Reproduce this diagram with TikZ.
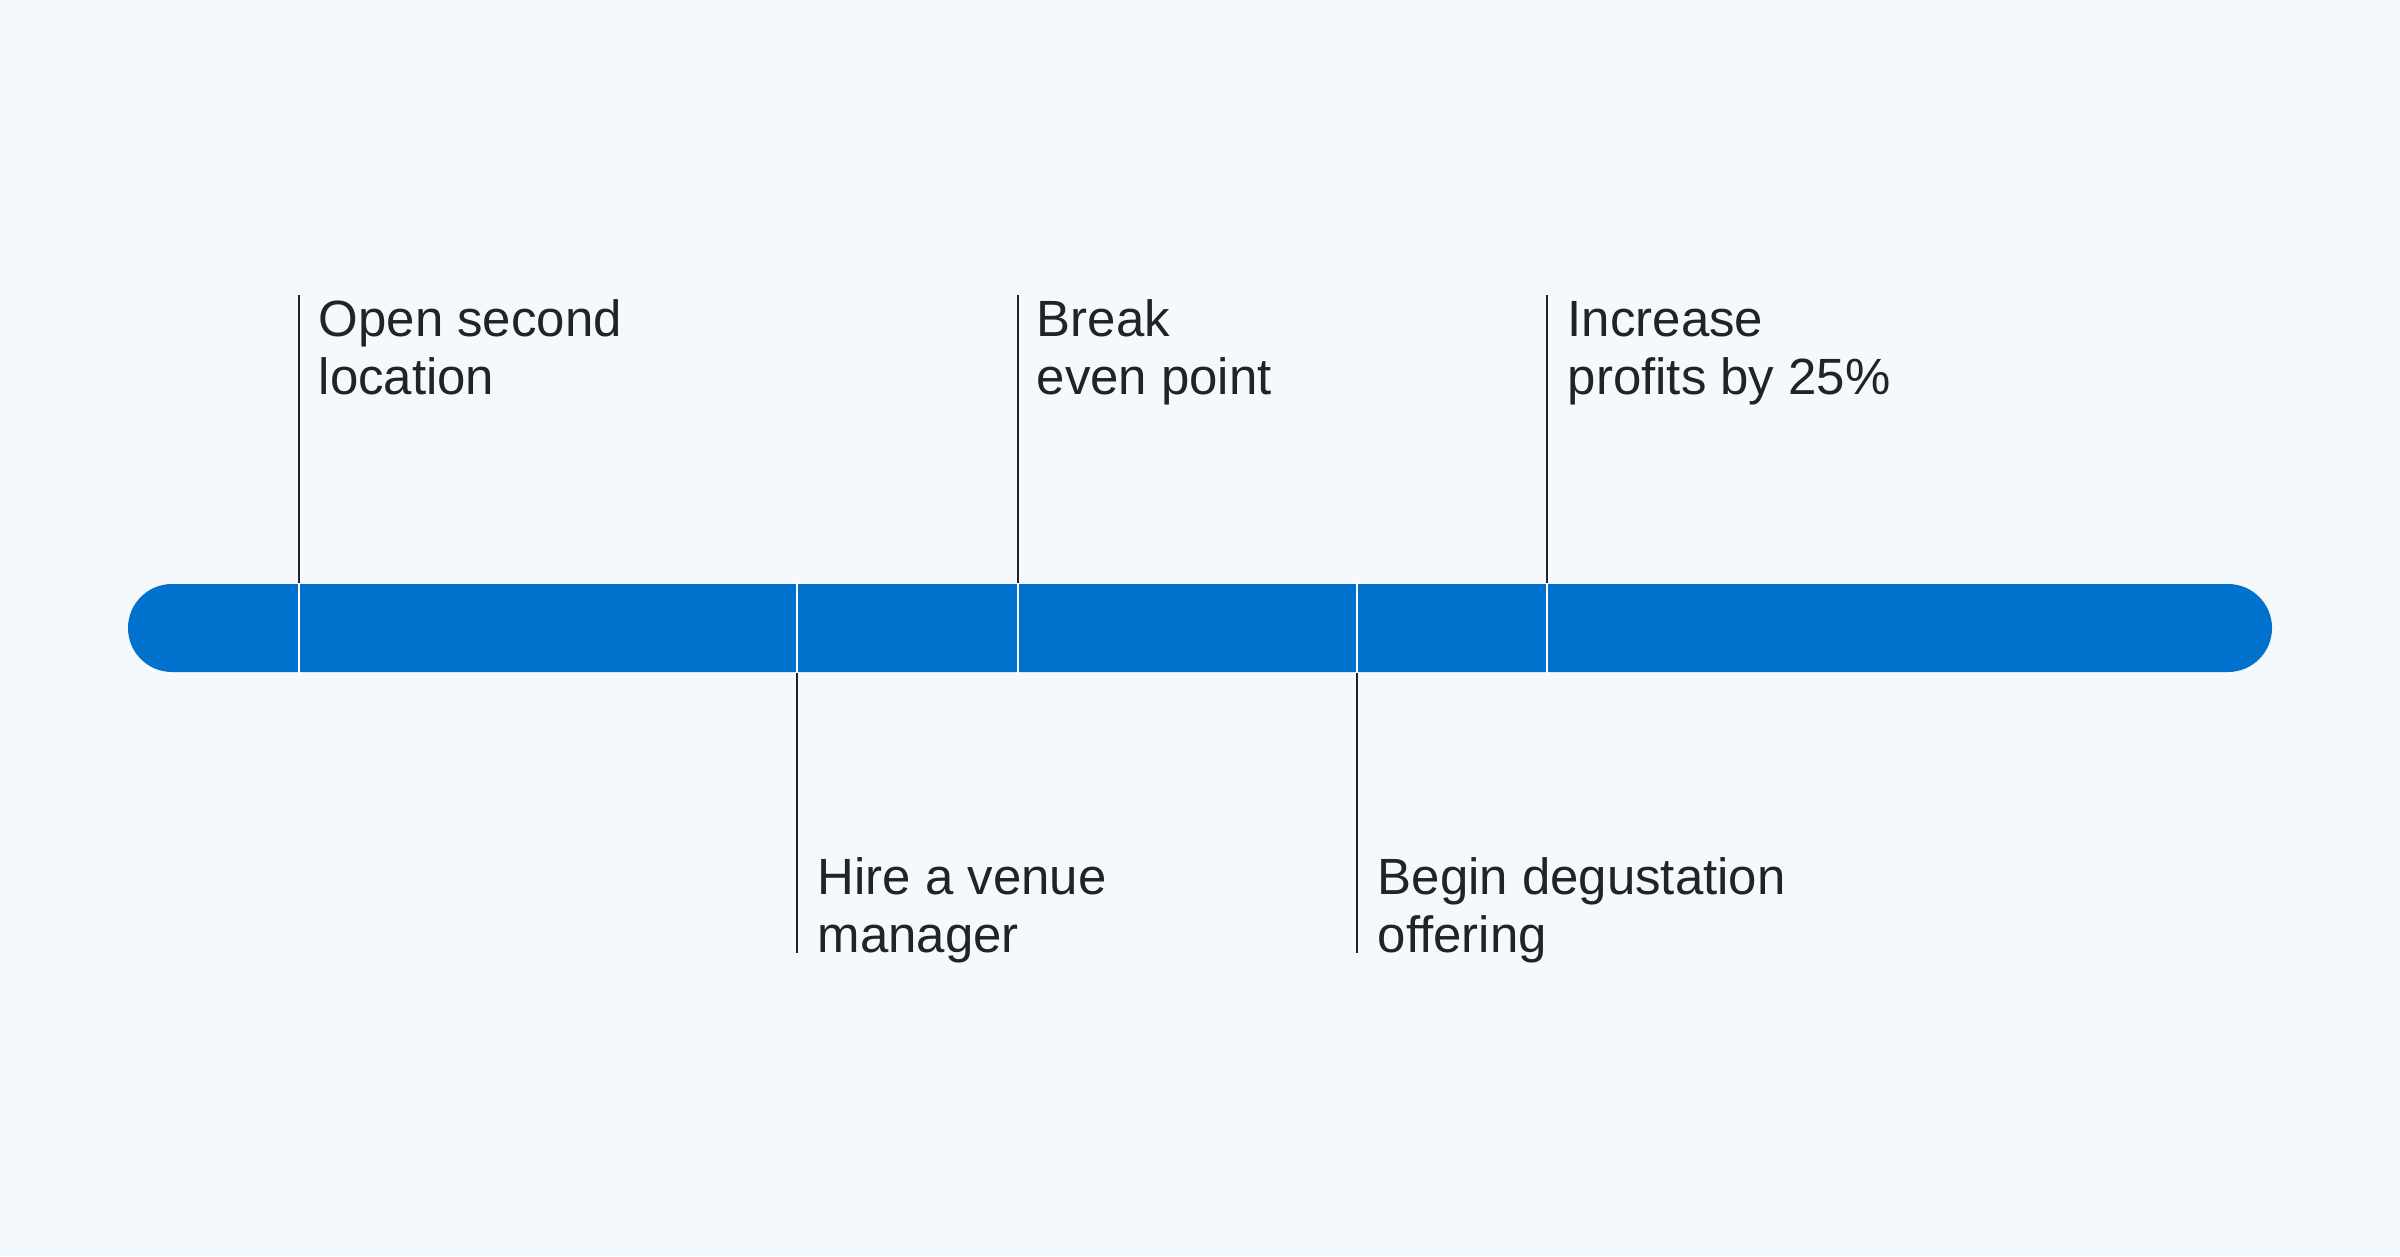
\documentclass[tikz,border=0pt]{standalone}
\usepackage{fontspec}
\setmainfont{Liberation Sans}
\usetikzlibrary{positioning}

\definecolor{bgcol}{RGB}{244,249,253}
\definecolor{barblue}{RGB}{0,114,206}
\definecolor{inkgrey}{RGB}{33,35,38}

\tikzset{
  timebar/.style={fill=barblue, rounded corners=0.44cm, inner sep=0pt,
    minimum width=21.44cm, minimum height=0.88cm},
  milestone/.style={anchor=base west, inner sep=0pt, align=left, text=inkgrey,
    font=\fontsize{14.5pt}{16.3pt}\selectfont},
  tickline/.style={draw=inkgrey, line width=0.6pt},
  cutline/.style={draw=white, line width=0.6pt}
}

\begin{document}
\begin{tikzpicture}[x=1cm, y=1cm]

  % background and page size
  \fill[bgcol] (0,0) rectangle (24,-12.56);
  \useasboundingbox (0,0) rectangle (24,-12.56);

  % --- the time bar ---
  \node[timebar] (bar) at (12,-6.28) {};

  % --- tick ends ---
  \coordinate (m1) at (2.99,-2.95);
  \coordinate (m2) at (7.97,-9.53);
  \coordinate (m3) at (10.18,-2.95);
  \coordinate (m4) at (13.57,-9.53);
  \coordinate (m5) at (15.47,-2.95);

  % --- milestones above the bar (base = last line) ---
  \node[milestone] (open) at (3.18,-3.94) {Open second\\location};
  \node[milestone] (even) at (10.36,-3.94) {Break\\even point};
  \node[milestone] (profit) at (15.67,-3.94) {Increase\\profits by 25\%};

  % --- milestones below the bar ---
  \node[milestone] (hire) at (8.17,-9.52) {Hire a venue\\manager};
  \node[milestone] (degust) at (13.77,-9.52) {Begin degustation\\offering};

  % ticks
  \foreach \m in {m1,m3,m5} {
    \draw[tickline] (\m) -- (\m |- bar.north);
    \draw[cutline] (\m |- bar.north) -- (\m |- bar.south);
  }
  \foreach \m in {m2,m4} {
    \draw[tickline] (\m |- bar.south) -- (\m);
    \draw[cutline] (\m |- bar.north) -- (\m |- bar.south);
  }

\end{tikzpicture}
\end{document}
